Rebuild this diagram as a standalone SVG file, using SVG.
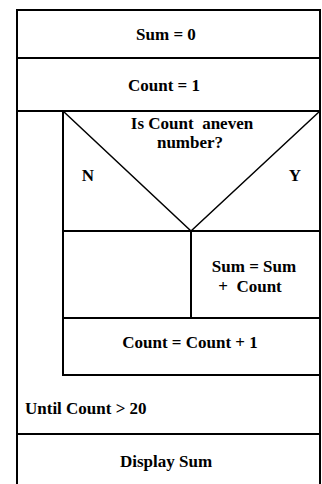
<svg xmlns="http://www.w3.org/2000/svg" width="322" height="484" viewBox="0 0 322 484">
<style>
.box{fill:none;stroke:#000;stroke-width:2}
.diag{fill:none;stroke:#000;stroke-width:1.5}
.t{font-family:"Liberation Serif","Times New Roman",serif;font-weight:bold;font-size:17px;fill:#000;white-space:pre}
.c{text-anchor:middle}
</style>
<rect width="322" height="484" fill="#fff"/>
<g id="sum-init">
<rect class="box" x="17" y="10" width="303" height="48"/>
<text class="t c" x="166" y="40">Sum = 0</text>
</g>
<g id="count-init">
<rect class="box" x="17" y="58" width="303" height="53"/>
<text class="t c" x="164" y="91">Count = 1</text>
</g>
<g id="repeat-loop">
<path class="box" d="M17,111 V490 M320,111 V490 M17,434 H320"/>
<text class="t" x="25" y="414">Until Count &gt; 20</text>
</g>
<g id="decision">
<rect class="box" x="63" y="111" width="257" height="120"/>
<path class="diag" d="M63,111 L191,231 L320,111"/>
<text class="t c" x="192" y="129">Is Count  aneven</text>
<text class="t c" x="190" y="148">number?</text>
<text class="t c" x="88" y="181">N</text>
<text class="t c" x="295" y="181">Y</text>
</g>
<g id="no-branch">
<rect class="box" x="63" y="231" width="128" height="87"/>
</g>
<g id="yes-branch">
<rect class="box" x="191" y="231" width="129" height="87"/>
<text class="t c" x="254" y="272">Sum = Sum</text>
<text class="t c" x="250" y="292">+  Count</text>
</g>
<g id="count-increment">
<rect class="box" x="63" y="318" width="257" height="57"/>
<text class="t c" x="190" y="348">Count = Count + 1</text>
</g>
<g id="display-sum">
<text class="t c" x="166" y="467">Display Sum</text>
</g>
<g id="connectors"></g>
</svg>
